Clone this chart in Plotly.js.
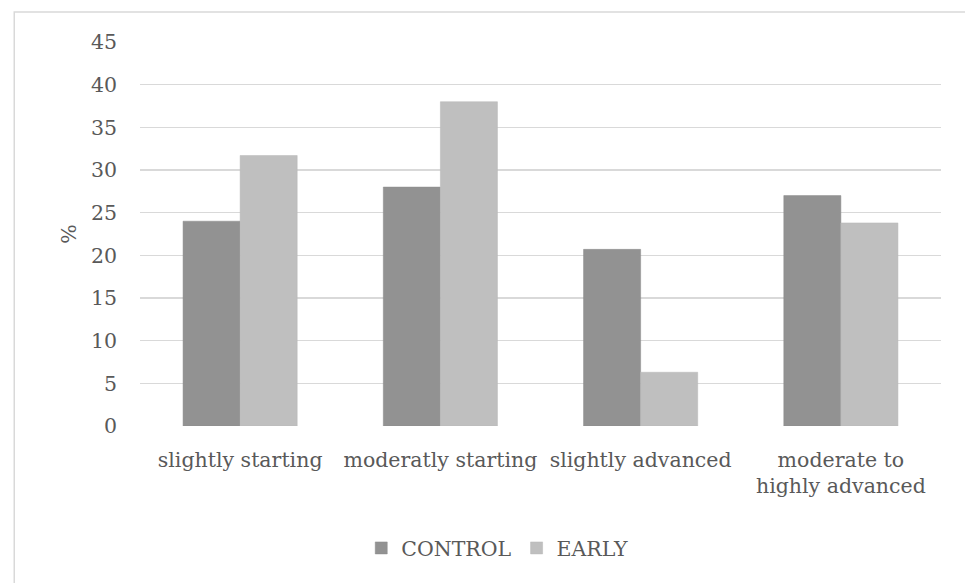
<!DOCTYPE html>
<html>
<head>
<meta charset="utf-8">
<script src="https://cdn.plot.ly/plotly-3.0.1.min.js"></script>
<style>html,body{margin:0;padding:0;background:#fff;}#chart{width:965px;height:583px;}</style>
</head>
<body>
<div id="chart"></div>
<script>
const categories = ["slightly starting", "moderatly starting", "slightly advanced", "moderate to<br>highly advanced"];
const controlValues = [24.0, 28.0, 20.7, 27.0];
const earlyValues = [31.7, 38.0, 6.3, 23.8];
const yTickValues = [0, 5, 10, 15, 20, 25, 30, 35, 40, 45];

const FONT = "DejaVu Serif, Liberation Serif, serif";
const TXT = "#595959";
const FS = 20.5;

const traces = [
  {type: "bar", name: "CONTROL", x: categories, y: controlValues,
   marker: {color: "#929292", line: {color: "#8a8a8a", width: 0.5}}},
  {type: "bar", name: "EARLY", x: categories, y: earlyValues,
   marker: {color: "#bfbfbf", line: {color: "#b8b8b8", width: 0.5}}}
];

const layout = {
  width: 965, height: 583,
  margin: {l: 140, r: 24, t: 42, b: 157},
  paper_bgcolor: "#ffffff", plot_bgcolor: "#ffffff",
  barmode: "group", bargap: 0.43, bargroupgap: 0,
  font: {family: FONT, size: FS, color: TXT},
  xaxis: {
    type: "category", showgrid: false, zeroline: false, showline: false,
    ticks: "", ticklabelstandoff: 19,
    tickfont: {family: FONT, size: FS, color: TXT}, automargin: false
  },
  yaxis: {
    range: [0, 45], tickvals: yTickValues, ticktext: yTickValues.map(String),
    showgrid: true, gridcolor: "#d9d9d9", gridwidth: 1.5,
    zeroline: false, showline: false, ticks: "", ticklen: 0,
    ticklabelstandoff: 22,
    tickfont: {family: FONT, size: FS, color: TXT},
    title: {text: "%", font: {family: FONT, size: FS, color: TXT}, standoff: 8},
    automargin: false
  },
  showlegend: true,
  legend: {
    orientation: "h", x: 0.446, xanchor: "center", y: -0.318, yanchor: "middle",
    font: {family: FONT, size: FS, color: TXT}, traceorder: "normal",
    itemwidth: 30
  },
  shapes: [{
    type: "rect", xref: "paper", yref: "paper",
    x0: -0.157, x1: 1.06, y0: -0.45, y1: 1.078,
    line: {color: "#d9d9d9", width: 1.5}, fillcolor: "rgba(0,0,0,0)", layer: "below"
  }]
};

Plotly.newPlot("chart", traces, layout, {displayModeBar: false, staticPlot: true});
</script>
</body>
</html>
